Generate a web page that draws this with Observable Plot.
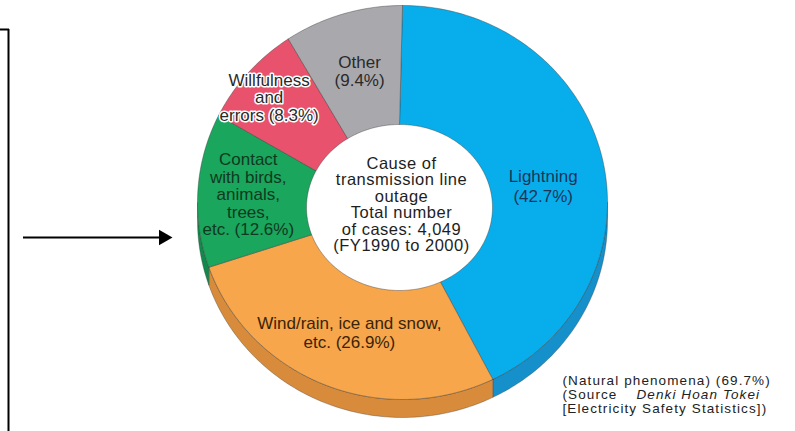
<!DOCTYPE html>
<html><head><meta charset="utf-8">
<script src="https://cdn.jsdelivr.net/npm/d3@7"></script>
<script src="https://cdn.jsdelivr.net/npm/@observablehq/plot@0.6"></script>
<style>
body{margin:0;background:#fff;}
#chart svg{display:block;}
.note text{letter-spacing:1.1px;}
.center text{letter-spacing:0.5px;}
</style>
</head><body><div id="chart"></div>
<script>
// ---- data ----
const categories = ["Lightning", "Wind/rain, ice and snow, etc.", "Contact with birds, animals, trees, etc.", "Willfulness and errors", "Other"];
const shares = [42.7, 26.9, 12.6, 8.3, 9.4];
const labels = ["Lightning\n(42.7%)", "Wind/rain, ice and snow,\netc. (26.9%)", "Contact\nwith birds,\nanimals,\ntrees,\netc. (12.6%)", "Willfulness\nand\nerrors (8.3%)", "Other\n(9.4%)"];
const centerLines = ["Cause of", "transmission line", "outage", "Total number", "of cases: 4,049", "(FY1990 to 2000)"];
const noteLine1 = "(Natural phenomena) (69.7%)";
const noteLine2a = "(Source";
const noteLine2b = "Denki Hoan Tokei";
const noteLine3 = "[Electricity Safety Statistics])";

// ---- styles / layout ----
const topColors = ["#08aeec", "#f7a64b", "#1aa65c", "#e9526c", "#a9a9ad"];
const sideColors = ["#1590cb", "#d88b3a", "#12894a", "#c04058", "#8a8a8e"];
const textColors = ["#1b3558", "#3a2408", "#0f3a1f", "#2a2a2a", "#2a2a2a"];
const labelT = [0.5, 0.5, 0.5, 0.73, 0.5];     // radial position inside ring
const labelDy = [12, -2, -2, 3, 0];
const labelDx = [-3, 5, -4, -1, 2];
const labelLH = [1.18, 1.12, 1.03, 1.03, 1.06];
const G = {cx: 402, cy: 202, rx: 205, ry: 197, depth: 18, icx: 399, icy: 207, irx: 93, iry: 83};

// ---- geometry from the data ----
const total = d3.sum(shares);
let acc = 0;
const slices = shares.map((v, i) => {
  const a0 = acc / total * 2 * Math.PI; acc += v;
  const a1 = acc / total * 2 * Math.PI;
  return {i, a0, a1, key: categories[i]};
});
const outerPt = (a, dy = 0) => [G.cx + G.rx * Math.sin(a), G.cy - G.ry * Math.cos(a) + dy];
const innerPt = a => [G.icx + G.irx * Math.sin(a), G.icy - G.iry * Math.cos(a)];

const faces = [], sides = [];
for (const s of slices) {
  const n = Math.max(4, Math.ceil((s.a1 - s.a0) / (2 * Math.PI) * 360));
  const pts = [];
  for (let k = 0; k <= n; k++) pts.push(outerPt(s.a0 + (s.a1 - s.a0) * k / n));
  for (let k = n; k >= 0; k--) pts.push(innerPt(s.a0 + (s.a1 - s.a0) * k / n));
  pts.push(pts[0]);
  pts.forEach(([x, y]) => faces.push({x, y, key: s.key}));
  const lo = Math.max(s.a0, Math.PI / 2), hi = Math.min(s.a1, 3 * Math.PI / 2);
  if (hi > lo) {
    const m = Math.max(4, Math.ceil((hi - lo) / (2 * Math.PI) * 360));
    const sp = [];
    for (let k = 0; k <= m; k++) sp.push(outerPt(lo + (hi - lo) * k / m));
    for (let k = m; k >= 0; k--) sp.push(outerPt(lo + (hi - lo) * k / m, G.depth));
    sp.push(sp[0]);
    sp.forEach(([x, y]) => sides.push({x, y, key: s.key + " (side)"}));
  }
}

const labelData = slices.map(s => {
  const am = (s.a0 + s.a1) / 2;
  const [ox, oy] = outerPt(am), [ix, iy] = innerPt(am);
  const t = labelT[s.i];
  return {x: ix + t * (ox - ix) + labelDx[s.i], y: iy + t * (oy - iy) + labelDy[s.i], text: labels[s.i], i: s.i};
});

const font = "'Liberation Sans', Arial, sans-serif";
const noteStyle = {textAnchor: "start", lineAnchor: "middle", fontSize: 13.5, fill: "#222", fontFamily: font, text: d => d, className: "note"};
const marks = [
  Plot.line(sides, {x: "x", y: "y", z: "key", fill: "key", stroke: "#3a3a3a", strokeWidth: 0.6, strokeOpacity: 0.6, curve: "linear"}),
  Plot.line(faces, {x: "x", y: "y", z: "key", fill: "key", stroke: "#3a3a3a", strokeWidth: 0.7, strokeOpacity: 0.6, curve: "linear"}),
  ...labelData.map(d => Plot.text([d], {
    x: "x", y: "y", text: "text", fill: textColors[d.i], fontSize: 17, lineHeight: labelLH[d.i],
    textAnchor: "middle", lineAnchor: "middle", fontFamily: font,
    stroke: d.i === 3 ? "#ffffff" : "none", strokeWidth: d.i === 3 ? 3 : 0, paintOrder: "stroke"
  })),
  Plot.text([centerLines.join("\n")], {x: () => G.icx + 2, y: () => G.icy - 3, text: d => d, fontSize: 16.5, lineHeight: 1.0, textAnchor: "middle", lineAnchor: "middle", fill: "#1e1e1e", fontFamily: font, className: "center"}),
  // footnote
  Plot.text([noteLine1], {x: () => 562, y: () => 380.5, ...noteStyle}),
  Plot.text([noteLine2a], {x: () => 562, y: () => 394.5, ...noteStyle}),
  Plot.text([noteLine2b], {x: () => 636, y: () => 394.5, ...noteStyle, fontStyle: "italic"}),
  Plot.text([noteLine3], {x: () => 562, y: () => 408.5, ...noteStyle}),
  // bracket and arrow
  Plot.ruleX([8], {y1: 29, y2: 431, stroke: "#000", strokeWidth: 2}),
  Plot.ruleY([29], {x1: 0, x2: 9, stroke: "#000", strokeWidth: 2}),
  Plot.ruleY([237], {x1: 23, x2: 160, stroke: "#000", strokeWidth: 2}),
  Plot.dot([0], {x: () => 163, y: () => 237, symbol: "triangle", r: 5.8, rotate: 90, fill: "#000", stroke: "none"})
];

const chart = Plot.plot({
  width: 795, height: 431,
  margin: 0,
  x: {domain: [0, 795], range: [0, 795], axis: null},
  y: {domain: [0, 431], range: [0, 431], axis: null},
  color: {domain: [...categories, ...categories.map(c => c + " (side)")], range: [...topColors, ...sideColors]},
  style: {background: "#fff", fontFamily: font},
  marks
});
document.getElementById("chart").append(chart);
</script>
</body></html>
